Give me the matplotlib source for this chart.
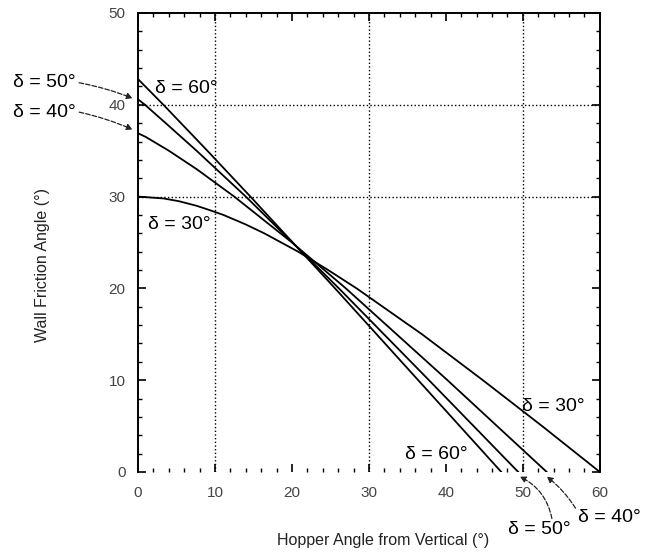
import numpy as np
import matplotlib.pyplot as plt

plt.rcParams['font.family'] = ['Liberation Sans', 'DejaVu Sans']

# wall friction angle (y) and hopper angle from vertical (x)
wall_30 = [0, 5, 10, 15, 20, 22, 24, 26, 27, 28, 28.5, 29, 29.5, 29.8, 30]
hopper_30 = [60, 52.5, 44.8, 36.9, 28.4, 24.7, 20.8, 16.4, 13.9, 11.1, 9.4, 7.6, 5.3, 3.3, 0]

wall_40 = [0, 10, 20, 25, 30, 33, 35, 36, 36.5, 36.9]
hopper_40 = [53.1, 40.2, 27.0, 20.0, 12.5, 7.6, 4.0, 2.0, 1.0, 0]

wall_50 = [0, 10, 20, 30, 35, 38, 40, 40.6]
hopper_50 = [49.4, 37.8, 26.1, 14.0, 7.6, 3.6, 0.9, 0]

wall_60 = [0, 10, 20, 30, 35, 40, 42.8]
hopper_60 = [47.2, 36.4, 25.6, 14.6, 9.0, 3.3, 0]

fig = plt.figure(figsize=(6.45, 5.53), dpi=100)
ax = fig.add_axes([0.214, 0.1465, 0.716, 0.83])

for h, w in [(hopper_30, wall_30), (hopper_40, wall_40),
             (hopper_50, wall_50), (hopper_60, wall_60)]:
    ax.plot(h, w, color='black', lw=1.3)

ax.set_xlim(0, 60)
ax.set_ylim(0, 50)
ax.set_xticks(range(0, 61, 10))
ax.set_yticks(range(0, 51, 10))
ax.set_xticks(range(0, 61, 2), minor=True)
ax.set_yticks(range(0, 51, 2), minor=True)
ax.tick_params(which='both', direction='in', top=True, right=True,
               labelsize=11, labelcolor='#444444')
ax.tick_params(which='major', length=6, width=1.2)
ax.tick_params(which='minor', length=3, width=1.0)
ax.tick_params(axis='x', pad=10)
ax.tick_params(axis='y', pad=9)
for s in ['top', 'left', 'right']:
    ax.spines[s].set_linewidth(1.4)
ax.spines['bottom'].set_visible(False)

# dotted grid lines only where the original has them
for gx in [10, 30, 50]:
    ax.axvline(gx, color='black', ls=':', lw=1.0)
for gy in [30, 40]:
    ax.axhline(gy, color='black', ls=':', lw=1.0)

ax.set_xlabel('Hopper Angle from Vertical (°)', fontsize=11.5, color='#222222')
ax.set_ylabel('Wall Friction Angle (°)', fontsize=11.5, color='#222222')
ax.xaxis.set_label_coords(0.53, -0.133)
ax.yaxis.set_label_coords(-0.19, 0.45)

fs = 14
ax.text(2.2, 41.8, 'δ = 60°', fontsize=fs, va='center')
ax.text(1.3, 27.0, 'δ = 30°', fontsize=fs, va='center')
ax.text(49.9, 7.1, 'δ = 30°', fontsize=fs, va='center')
ax.text(34.7, 1.9, 'δ = 60°', fontsize=fs, va='center')

arrow = dict(arrowstyle='-|>', ls='--', lw=0.9, color='#222222',
             shrinkA=0, shrinkB=0, mutation_scale=9)
ax.annotate('δ = 50°', xy=(-0.7, 40.7), xytext=(-16.2, 42.4), fontsize=fs,
            va='center', annotation_clip=False,
            arrowprops=dict(arrow, connectionstyle='arc3,rad=-0.05', relpos=(1.05, 0.5)))
ax.annotate('δ = 40°', xy=(-0.7, 37.3), xytext=(-16.2, 39.2), fontsize=fs,
            va='center', annotation_clip=False,
            arrowprops=dict(arrow, connectionstyle='arc3,rad=-0.05', relpos=(1.05, 0.5)))
ax.annotate('δ = 50°', xy=(49.6, -0.5), xytext=(48.1, -6.3), fontsize=fs,
            va='center', annotation_clip=False,
            arrowprops=dict(arrow, connectionstyle='arc3,rad=0.25', relpos=(0.7, 1.1)))
ax.annotate('δ = 40°', xy=(53.1, -0.5), xytext=(57.2, -5.0), fontsize=fs,
            va='center', annotation_clip=False,
            arrowprops=dict(arrow, connectionstyle='arc3,rad=0.1', relpos=(0.0, 0.8)))

fig.savefig('out.png', dpi=100)
